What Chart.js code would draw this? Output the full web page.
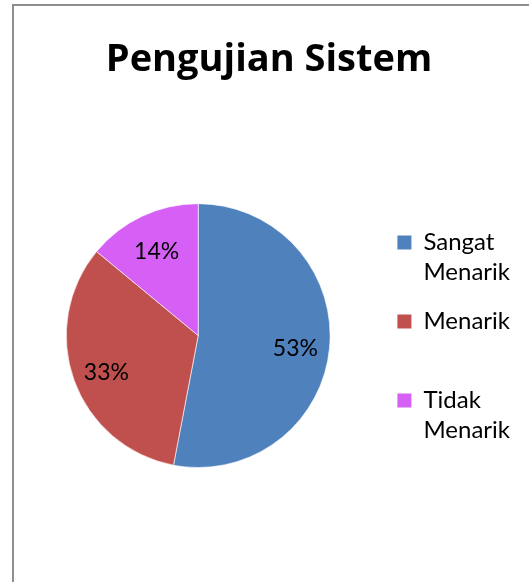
<!DOCTYPE html>
<html>
<head>
<meta charset="utf-8">
<script src="https://cdn.jsdelivr.net/npm/chart.js@4.4.0/dist/chart.umd.min.js"></script>
<style>
  html, body { margin: 0; padding: 0; background: #fff; overflow: hidden; }
  #wrap { position: relative; width: 529px; height: 582px; }
  #bingkai { position: absolute; left: 12px; top: 4px; width: 600px; height: 700px;
             border-top: 2px solid #8e8e8e; border-left: 2px solid #8e8e8e; }
  canvas { position: absolute; left: 0; top: 0; }
</style>
</head>
<body>
<div id="wrap">
  <div id="bingkai"></div>
  <canvas id="grafik" width="529" height="582"></canvas>
</div>
<script>
// ===== Data =====
const judul = "Pengujian Sistem";
const kategori = ["Sangat Menarik", "Menarik", "Tidak Menarik"];
const persen = [53, 33, 14];
const warna = ["#4F81BD", "#C0504D", "#D660F6"];

const huruf = "Lato, 'Open Sans', sans-serif";

// ===== Label persen di dalam irisan =====
const labelPersen = {
  id: "labelPersen",
  afterDatasetsDraw(chart) {
    const ctx = chart.ctx;
    const meta = chart.getDatasetMeta(0);
    ctx.save();
    ctx.font = "23px " + huruf;
    ctx.fillStyle = "#000";
    ctx.textAlign = "center";
    ctx.textBaseline = "middle";
    meta.data.forEach((arc, i) => {
      const p = arc.getProps(["x", "y", "startAngle", "endAngle", "outerRadius"], true);
      const sudut = (p.startAngle + p.endAngle) / 2;
      const r = p.outerRadius * 0.74;
      ctx.fillText(persen[i] + "%", p.x + Math.cos(sudut) * r, p.y + Math.sin(sudut) * r + 4);
    });
    ctx.restore();
  }
};

// ===== Grafik =====
const ctx = document.getElementById("grafik").getContext("2d");

new Chart(ctx, {
  type: "pie",
  data: {
    labels: kategori,
    datasets: [
      {
        data: persen,
        backgroundColor: warna,
        borderColor: "rgba(255,255,255,0.6)",
        borderWidth: 1,
      },
    ],
  },
  options: {
    responsive: false,
    animation: false,
    layout: { padding: { left: 18, right: 9, top: 0, bottom: 114 } },
    plugins: {
      title: {
        display: true,
        text: judul,
        color: "#000",
        font: { family: "'Open Sans', sans-serif", size: 38, weight: "bold", lineHeight: 1.2 },
        padding: { top: 37, bottom: 120.6 },
      },
      legend: {
        position: "right",
        fullSize: false,
        // judul kosong hanya untuk menggeser daftar sedikit ke bawah
        title: { display: true, text: "", padding: 0, font: { size: 8, lineHeight: "8px" } },
        labels: {
          boxWidth: 14,
          boxHeight: 14,
          padding: 19,
          color: "#000",
          font: { family: huruf, size: 24, lineHeight: 1.25 },
          generateLabels(chart) {
            const items = Chart.overrides.doughnut.plugins.legend.labels.generateLabels(chart);
            return items.map((it) => {
              const baris = it.text.split(" ");
              while (baris.length < 2) baris.push("");
              it.text = baris;
              it.lineWidth = 0;
              return it;
            });
          },
        },
      },
      tooltip: { enabled: false },
    },
  },
  plugins: [labelPersen],
});
</script>
</body>
</html>
